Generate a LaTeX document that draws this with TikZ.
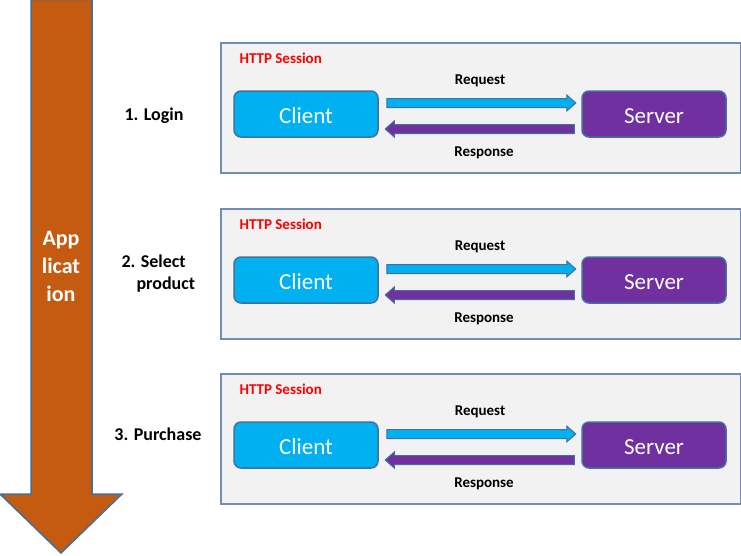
\documentclass[tikz,border=0pt]{standalone}
\usepackage{fontspec}
\setmainfont{Carlito}
\usetikzlibrary{calc}
\definecolor{appbrown}{HTML}{C55A11}
\definecolor{outl}{HTML}{41719C}
\definecolor{clblue}{HTML}{00B0F0}
\definecolor{svpurple}{HTML}{7030A0}
\definecolor{sessgray}{HTML}{F2F2F2}
\definecolor{sessline}{HTML}{6F8DB5}
\tikzset{
  sessbox/.style={draw=sessline, line width=1.5pt, fill=sessgray, minimum width=520pt,
    minimum height=130pt, anchor=north west, inner sep=0pt},
  endpoint/.style={draw=outl, line width=1.5pt, rounded corners=7pt, minimum width=144pt,
    minimum height=46pt, inner sep=0pt, text=white, font=\fontsize{23}{27}\selectfont,
    text height=18pt, text depth=0pt},
  msg/.style={font=\bfseries\fontsize{15}{18}\selectfont},
  steplbl/.style={font=\bfseries\fontsize{18}{22}\selectfont, align=left},
  blockarrow/.style={draw=outl, line width=1pt, line join=miter},
}
\begin{document}
\begin{tikzpicture}[x=1pt, y=1pt]
  \useasboundingbox (0,0) rectangle (741,-555);
  % application arrow
  \draw[blockarrow, fill=appbrown, line width=1.5pt] (31,0.5) -- (92,0.5) -- (92,-494) -- (122,-494)
    -- (61,-553) -- (0,-494) -- (31,-494) -- cycle;
  \node[font=\bfseries\fontsize{22}{28}\selectfont, text=white, align=center] (app) at (61,-266) {App\\licat\\ion};
  % one HTTP session per step
  \foreach \i/\dy in {1/0,2/166,3/331} {
    \begin{scope}[shift={(0,-\dy)}]
      \node[sessbox] (sess\i) at (220,-42) {};
      \node[msg, anchor=west, text=red] (http\i) at (236,-58) {HTTP Session};
      \node[endpoint, fill=clblue] (cl\i) at (306,-114) {Client};
      \node[endpoint, fill=svpurple] (sv\i) at (654,-114) {Server};
      % request
      \draw[blockarrow, fill=clblue] ($(cl\i.east)+(8,15.5)$) -- ++(180,0) -- ++(0,3.5)
        -- ++(9,-8) -- ++(-9,-8) -- ++(0,3.5) -- ++(-180,0) -- cycle;
      % response
      \draw[blockarrow, fill=svpurple] ($(sv\i.west)+(-7,-10.5)$) -- ++(-180,0) -- ++(0,3.5)
        -- ++(-9,-8) -- ++(9,-8) -- ++(0,3.5) -- ++(180,0) -- cycle;
      \node[msg] (req\i) at (480,-81) {Request};
      \node[msg] (resp\i) at (484,-153) {Response};
    \end{scope}
  }
  % steps
  \node[steplbl] (login) at (154,-116) {1. Login};
  \node[steplbl, anchor=west] (select) at (118,-274) {2. Select\\\hspace*{15pt}product};
  \node[steplbl] (purchase) at (158,-434) {3. Purchase};
\end{tikzpicture}
\end{document}
